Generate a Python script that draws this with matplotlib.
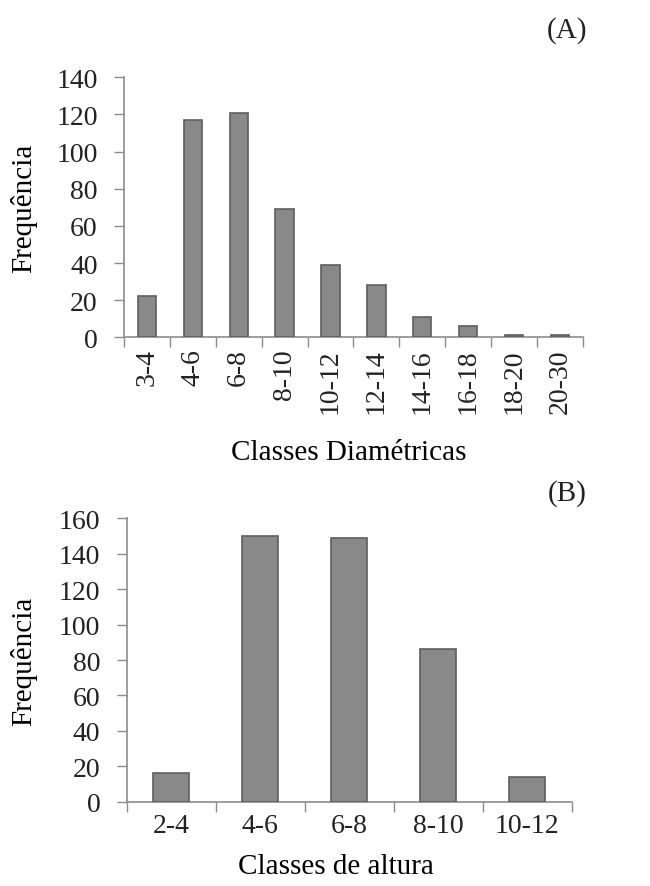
import numpy as np
import matplotlib.pyplot as plt

# frequency per diameter class (A) and per height class (B)
diam_classes = ["3-4", "4-6", "6-8", "8-10", "10-12", "12-14", "14-16", "16-18", "18-20", "20-30"]
diam_freq = [22, 117, 121, 69, 39, 28, 11, 6, 1, 1]

height_classes = ["2-4", "4-6", "6-8", "8-10", "10-12"]
height_freq = [16, 150, 149, 86, 14]

plt.rcParams['font.family'] = ['Liberation Serif', 'DejaVu Serif']
plt.rcParams['font.size'] = 20
plt.rcParams['text.color'] = '#222222'

bar_fill = '#898989'
bar_edge = '#5e5e5e'
axis_col = '#8c8c8c'

fig = plt.figure(figsize=(6.5, 8.87), dpi=100)
ax1 = fig.add_axes([0.1908, 0.6186, 0.706, 0.2931])
ax2 = fig.add_axes([0.1949, 0.0950, 0.6846, 0.3195])


def style(ax, cats, vals, ymax, ystep, rot):
    x = np.arange(len(cats))
    ax.bar(x, vals, width=0.4, color=bar_fill, edgecolor=bar_edge, linewidth=1.2, zorder=3)
    ax.set_xlim(-0.5, len(cats) - 0.5)
    ax.set_ylim(0, ymax)
    ax.set_yticks(np.arange(0, ymax + 1, ystep))
    # ticks sit on the category boundaries, labels in the middle
    ax.set_xticks(np.arange(-0.5, len(cats), 1.0))
    ax.set_xticklabels([])
    ax.set_xticks(x, minor=True)
    ax.set_xticklabels(cats, minor=True, rotation=rot)
    ax.tick_params(axis='x', which='minor', length=0, pad=8, labelcolor='#222222')
    ax.tick_params(axis='x', which='major', length=7, width=1, color=axis_col, direction='out')
    ax.tick_params(axis='y', length=7, width=1, color=axis_col, pad=12, labelcolor='#222222')
    for s in ['top', 'right']:
        ax.spines[s].set_visible(False)
    for s in ['left', 'bottom']:
        ax.spines[s].set_color(axis_col)
        ax.spines[s].set_linewidth(1.2)


style(ax1, diam_classes, diam_freq, 140, 20, 90)
style(ax2, height_classes, height_freq, 160, 20, 0)

ax1.set_ylabel("Frequência", fontsize=21)
ax1.yaxis.set_label_coords(-0.19, 0.5)
ax1.set_xlabel("Classes Diamétricas", fontsize=21)
ax1.xaxis.set_label_coords(0.49, -0.39)

ax2.set_ylabel("Frequência", fontsize=21)
ax2.yaxis.set_label_coords(-0.20, 0.5)
ax2.set_xlabel("Classes de altura", fontsize=21)
ax2.xaxis.set_label_coords(0.47, -0.18)

fig.text(0.872, 0.966, "(A)", fontsize=21, ha='center', va='center')
fig.text(0.872, 0.444, "(B)", fontsize=21, ha='center', va='center')

plt.savefig("out.png", dpi=100)
